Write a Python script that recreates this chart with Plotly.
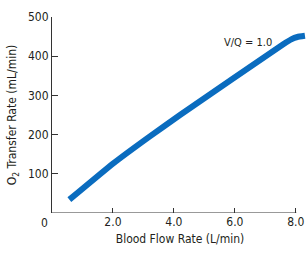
import plotly.graph_objects as go

flow = [0.57, 2.0, 3.2, 4.2, 7.6, 7.85, 8.05, 8.3]
o2_rate = [34, 126, 195, 250, 431, 443, 449, 452]
y_ticks = [100, 200, 300, 400, 500]
x_ticks = [2.0, 4.0, 6.0, 8.0]
x_tick_labels = ["2.0", "4.0", "6.0", "8.0"]

FONT = "DejaVu Sans Condensed, Liberation Sans, sans-serif"
TXT = "#231f20"

fig = go.Figure()
fig.add_trace(go.Scatter(
    x=flow, y=o2_rate, mode="lines",
    line=dict(color="#0a6cbf", width=6, shape="spline", smoothing=0.3),
    hoverinfo="skip", showlegend=False,
))

fig.update_layout(
    width=308, height=254,
    margin=dict(l=52, r=0, t=17, b=41),
    paper_bgcolor="white", plot_bgcolor="white",
    font=dict(family=FONT, size=12, color=TXT),
    xaxis=dict(range=[0, 8.4], tickvals=x_ticks, ticktext=x_tick_labels,
               ticks="inside", ticklen=5, tickcolor="#333", tickwidth=1,
               showline=False, showgrid=False, zeroline=False, automargin=False,
               title=dict(text="Blood Flow Rate (L/min)", standoff=6,
                          font=dict(size=12)),
               fixedrange=True),
    yaxis=dict(range=[0, 500], tickvals=y_ticks,
               ticks="inside", ticklen=6, tickcolor="#333", tickwidth=1,
               showline=True, linecolor="#333", linewidth=1, automargin=False,
               showgrid=False, zeroline=False,
               title=dict(text="O<sub>2</sub> Transfer Rate (mL/min)", standoff=8,
                          font=dict(size=12)),
               fixedrange=True),
    shapes=[dict(type="line", xref="x", yref="y", x0=0, x1=8.02, y0=0, y1=0,
                 line=dict(color="#333", width=1))],
    annotations=[
        dict(x=0, y=0, xref="x", yref="y", text="0", showarrow=False,
             xshift=-8, yshift=-10, font=dict(size=12, color=TXT)),
        dict(x=6.42, y=434, xref="x", yref="y", text="V/Q = 1.0", showarrow=False,
             font=dict(size=11, color=TXT)),
    ],
)

fig.write_html("out.html", config={"displayModeBar": False},
               post_script="document.body.style.margin='0';")
